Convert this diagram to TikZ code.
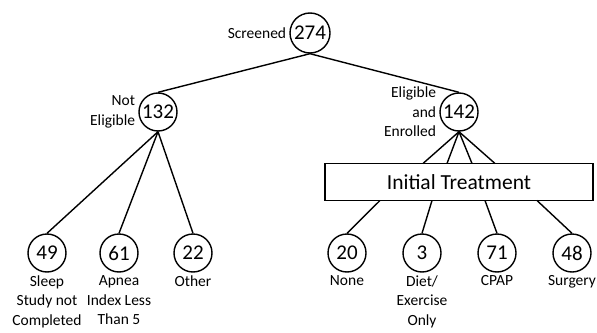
\documentclass[tikz,border=0pt]{standalone}
\usepackage{fontspec}
\setmainfont{Carlito}
\usepackage{tikz}
\usetikzlibrary{positioning}

\begin{document}
\begin{tikzpicture}[x=1pt,y=-1pt,line width=1.4pt,
    count/.style={circle,draw,minimum size=38pt,inner sep=0pt,font=\fontsize{21}{24}\selectfont},
    lbl/.style={font=\fontsize{15.5}{19.5}\selectfont,inner sep=1pt},
    under/.style={lbl,align=center,anchor=north,inner sep=0pt}]
  \useasboundingbox (0,0) rectangle (597,332);
  % top and the two groups
  \node[count,minimum size=40pt] (n274) at (310,33) {274};
  \node[count] (n132) at (158,112) {132};
  \node[count] (n142) at (459,112) {142};
  \node[lbl,left=1.5pt of n274] (lscr) {Screened};
  \node[lbl,align=right,left=1.5pt of n132] (lnot) {Not\\Eligible};
  \node[lbl,align=right,left=1.5pt of n142] (lelig) {Eligible\\and\\Enrolled};
  \node[draw,minimum width=268pt,minimum height=37pt,inner sep=0pt,
        font=\fontsize{21.5}{24}\selectfont] (treat) at (459,182) {Initial Treatment};
  % not eligible
  \node[count] (n49) at (47,253) {49};
  \node[count] (n61) at (119,253) {61};
  \node[count] (n22) at (193,253) {22};
  \node[under] at (47,275) {Sleep\\Study not\\Completed};
  \node[under] at (119,275) {Apnea\\Index Less\\Than 5};
  \node[under] at (193,275) {Other};
  % treatments
  \node[count] (n20) at (347,253) {20};
  \node[count] (n3) at (422,253) {3};
  \node[count] (n71) at (497,253) {71};
  \node[count] (n48) at (572,253) {48};
  \node[under] at (347,275) {None};
  \node[under] at (422,275) {Diet/\\Exercise\\Only};
  \node[under] at (497,275) {CPAP};
  \node[under] at (572,275) {Surgery};
  % ends on the box
  \coordinate (t1) at (423,163.5);
  \coordinate (t2) at (447,163.5);
  \coordinate (t3) at (472,163.5);
  \coordinate (t4) at (495,163.5);
  \coordinate (b1) at (380,200.5);
  \coordinate (b2) at (432,200.5);
  \coordinate (b3) at (485,200.5);
  \coordinate (b4) at (537,200.5);
  \draw (n274.south) -- (n132.north);
  \draw (n274.south) -- (n142.north);
  \foreach \c in {n49,n61,n22}
    \draw (n132.south) -- (\c.north);
  \foreach \t in {t1,t2,t3,t4}
    \draw (n142.south) -- (\t);
  \draw (b1) -- (n20.north);
  \draw (b2) -- (n3.north);
  \draw (b3) -- (n71.north);
  \draw (b4) -- (n48.north);
\end{tikzpicture}
\end{document}
